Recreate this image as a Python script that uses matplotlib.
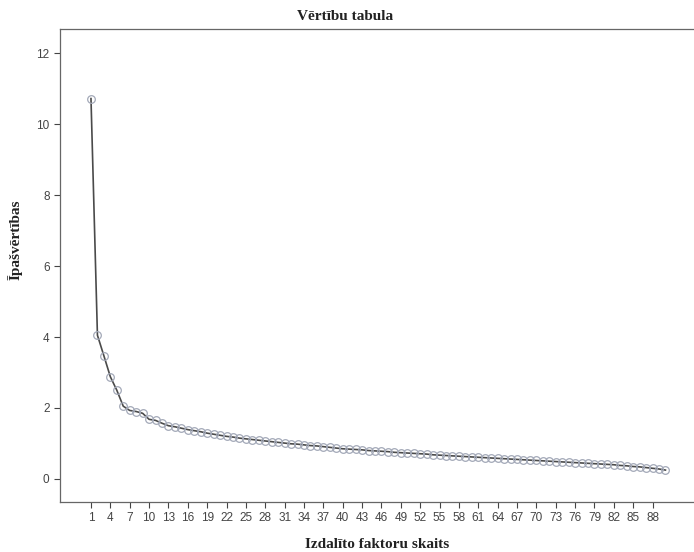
import numpy as np
import matplotlib

matplotlib.use("Agg")
from matplotlib import pyplot as plt

# eigenvalues (factors 1..90)
eigenvalues = [
    10.72, 4.05, 3.47, 2.88, 2.50, 2.05, 1.93, 1.90, 1.85, 1.68,
    1.65, 1.57, 1.50, 1.47, 1.43, 1.39, 1.36, 1.33, 1.29, 1.26,
    1.23, 1.20, 1.18, 1.15, 1.13, 1.11, 1.09, 1.07, 1.05, 1.03,
    1.01, 0.99, 0.98, 0.96, 0.94, 0.93, 0.91, 0.89, 0.87, 0.85,
    0.84, 0.83, 0.82, 0.80, 0.79, 0.78, 0.77, 0.75, 0.74, 0.73,
    0.72, 0.71, 0.70, 0.68, 0.67, 0.66, 0.65, 0.64, 0.63, 0.62,
    0.61, 0.60, 0.59, 0.58, 0.57, 0.56, 0.55, 0.54, 0.53, 0.52,
    0.51, 0.50, 0.49, 0.48, 0.47, 0.46, 0.45, 0.44, 0.43, 0.42,
    0.41, 0.40, 0.38, 0.37, 0.35, 0.34, 0.32, 0.30, 0.28, 0.25,
]
factors = np.arange(1, len(eigenvalues) + 1)
x_ticks = list(range(1, 89, 3))
y_ticks = [0, 2, 4, 6, 8, 10, 12]

fig = plt.figure(figsize=(6.94, 5.52), dpi=100)
ax = fig.add_axes([60 / 694, 1 - 502 / 552, 1 - 60 / 694 + 0.01, (502 - 29) / 552])

ax.plot(factors, eigenvalues, color='#4a4a4a', lw=1.2,
        marker='o', ms=5.5, mfc='none', mec='#a3a9b8', mew=0.9)

ax.set_xlim(-3.8, 95.5)
ax.set_ylim(-0.65, 12.68)
ax.set_xticks(x_ticks)
ax.set_yticks(y_ticks)
ax.tick_params(direction='out', length=4, width=0.8, color='#444444',
               labelsize=8.5, labelcolor='#444444')
for lbl in ax.get_xticklabels() + ax.get_yticklabels():
    lbl.set_family('Liberation Sans')

for side in ['left', 'bottom', 'top']:
    ax.spines[side].set_color('#666666')
    ax.spines[side].set_linewidth(0.9)
ax.spines['right'].set_visible(False)

serif = {'family': 'Liberation Serif', 'weight': 'bold', 'size': 11, 'color': '#222222'}
fig.text(345 / 694, 1 - 16 / 552, 'Vērtību tabula', ha='center', va='center', fontdict=serif)
fig.text(377 / 694, 1 - 544 / 552, 'Izdalīto faktoru skaits', ha='center', va='center', fontdict=serif)
fig.text(15 / 694, 1 - 240 / 552, 'Īpašvērtības', ha='center', va='center',
         rotation=90, fontdict=serif)

fig.savefig('out.png', dpi=100)
